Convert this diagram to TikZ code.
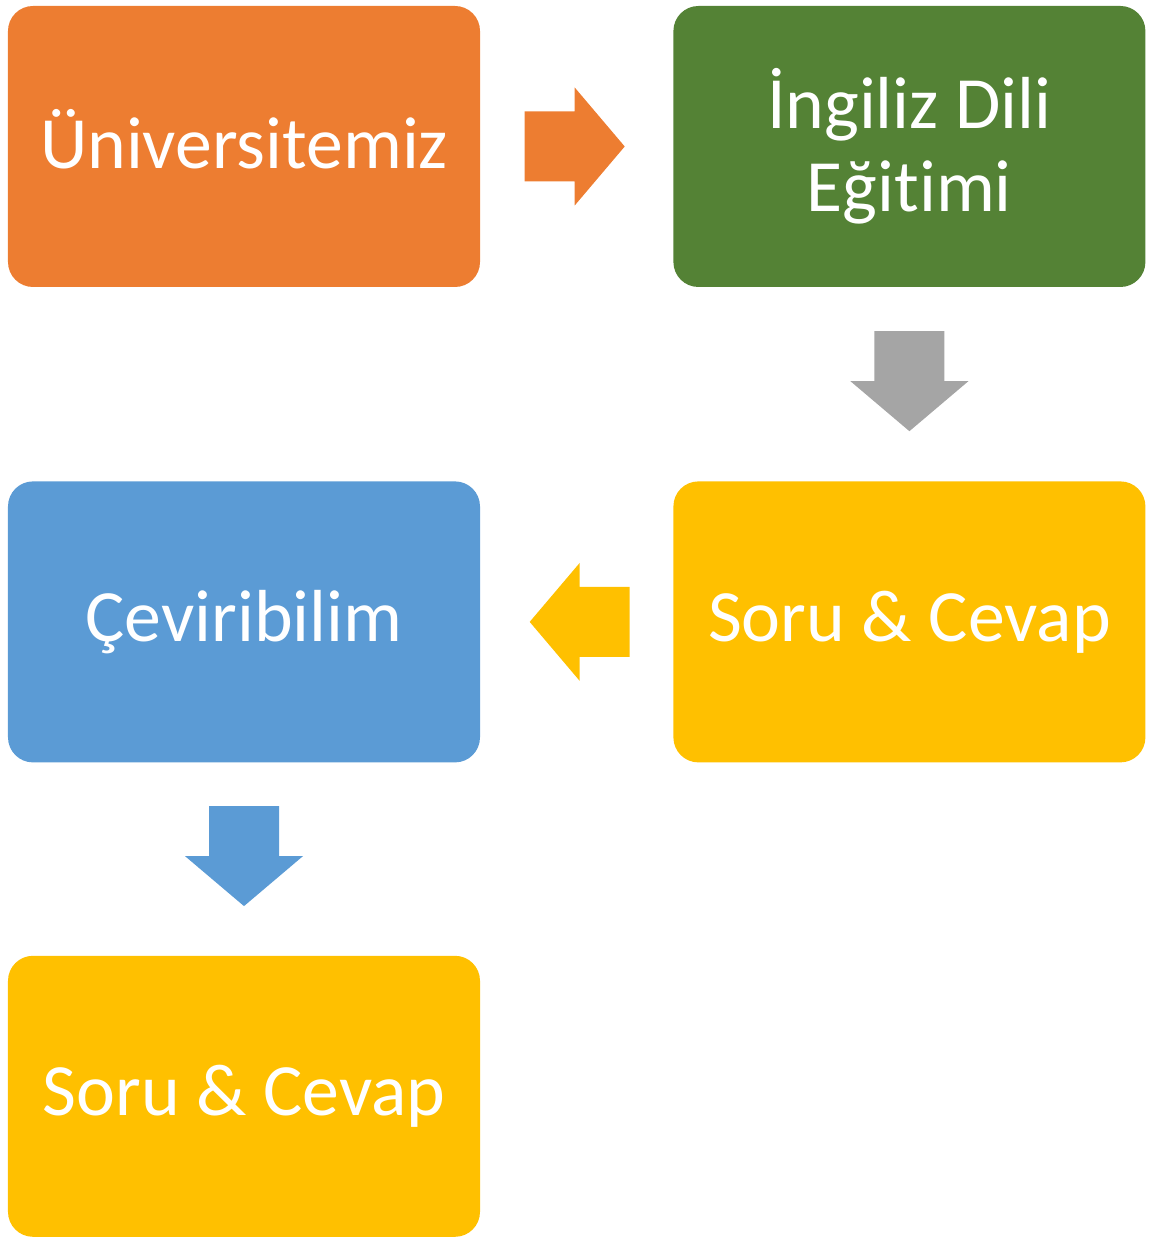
\documentclass[tikz,border=0pt]{standalone}
\usepackage{fontspec}
\setmainfont{Carlito}[RawFeature={-liga;-clig;-dlig;-calt}]
\usepackage{tikz}
\usetikzlibrary{positioning,calc}

\definecolor{uniorange}{HTML}{ED7D31}
\definecolor{inggreen}{HTML}{548235}
\definecolor{soruyellow}{HTML}{FFC000}
\definecolor{cevblue}{HTML}{5B9BD5}
\definecolor{arrowgray}{HTML}{A5A5A5}

\begin{document}
\begin{tikzpicture}[x=1bp,y=1bp,node distance=193bp,
    box/.style={rounded corners=25bp,inner sep=0pt,minimum width=472bp,minimum height=281bp,
      text=white,align=center,font=\fontsize{74}{83}\selectfont},
    blockarrow/.pic={\fill (-50,-35) -- (0,-35) -- (0,-59) -- (50,0) -- (0,59) -- (0,35) -- (-50,35) -- cycle;}]
      \useasboundingbox (0,0) rectangle (1158,1237);
      \node[box,fill=uniorange,text depth=15bp] (uni) at (244,1090.5) {Üniversitemiz};
      \node[box,fill=inggreen] (ing) [right=of uni] {İngiliz Dili\\Eğitimi};
      \node[box,fill=soruyellow] (soru) [below=194bp of ing] {Soru \& Cevap};
      \node[box,fill=cevblue] (cev) [left=of soru] {Çeviribilim};
      \node[box,fill=soruyellow] (soruiki) [below=of cev] {Soru \& Cevap};
      % block arrows between the boxes
      \path ($(uni.east)!0.5!(ing.west)$) pic[color=uniorange,xshift=-2bp] {blockarrow};
      \path ($(ing.south)!0.5!(soru.north)$) pic[color=arrowgray,yshift=3bp,rotate=-90] {blockarrow};
      \path ($(soru.west)!0.5!(cev.east)$) pic[color=soruyellow,xshift=3bp,rotate=180] {blockarrow};
      \path ($(cev.south)!0.5!(soruiki.north)$) pic[color=cevblue,yshift=3bp,rotate=-90] {blockarrow};
    \end{tikzpicture}
\end{document}
